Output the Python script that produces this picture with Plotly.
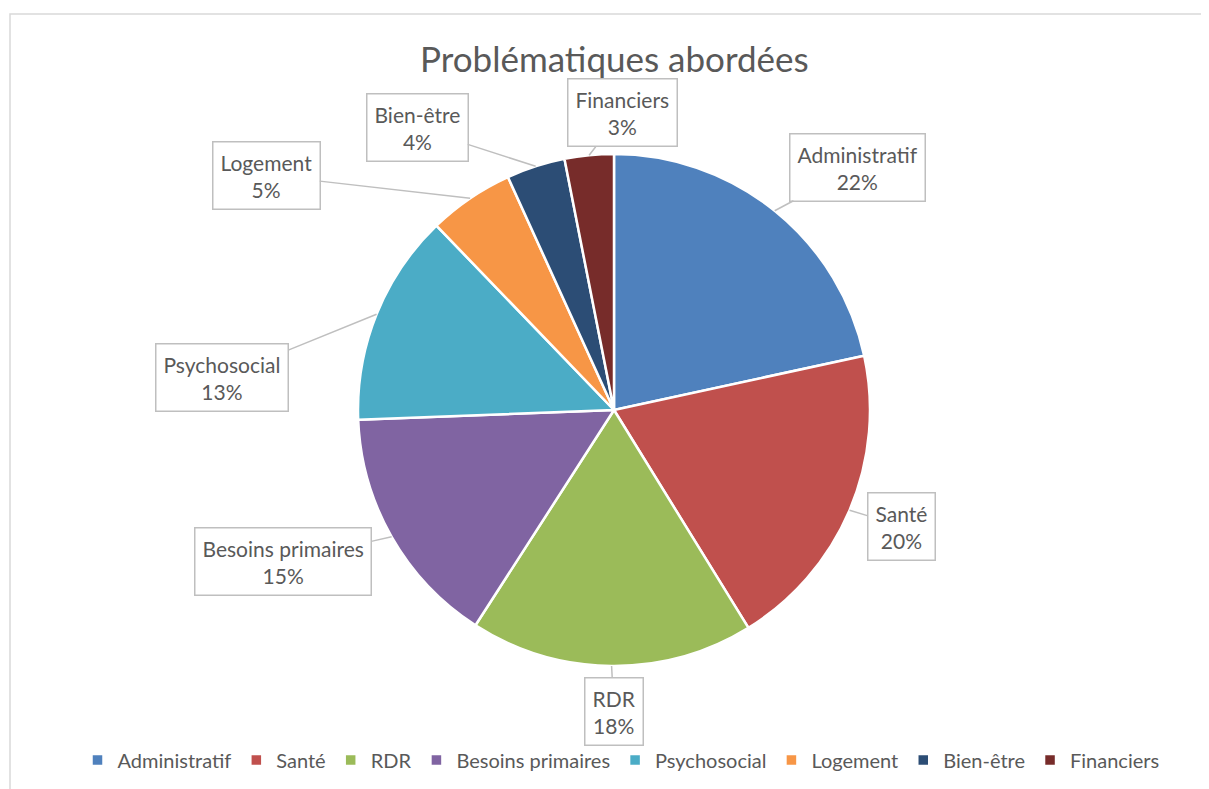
import math
import plotly.graph_objects as go

categories = ["Administratif", "Santé", "RDR", "Besoins primaires", "Psychosocial",
              "Logement", "Bien-être", "Financiers"]
values = [21.6, 19.6, 17.9, 15.3, 13.4, 5.4, 3.7, 3.1]
pct_labels = ["22%", "20%", "18%", "15%", "13%", "5%", "4%", "3%"]
colors = ["#4F81BD", "#C0504D", "#9BBB59", "#8064A2", "#4BACC6",
          "#F79646", "#2C4D75", "#772C2A"]

W, H = 1209, 789
OFF = 8  # page body margin
CX, CY, R = 614 - OFF, 410 - OFF, 256

# label box centers (pixel positions on the page)
box_centers = [(857, 167), (901, 526), (614, 711), (283, 561), (222, 377),
               (266, 175), (417, 128), (622, 113)]

FONT = "Lato"

fig = go.Figure()
fig.add_trace(go.Pie(
    labels=categories, values=values, sort=False, direction="clockwise",
    rotation=0, marker=dict(colors=colors, line=dict(color="white", width=2.5)),
    textinfo="none", hoverinfo="label+percent",
    domain=dict(x=[(CX - R) / W, (CX + R) / W], y=[1 - (CY + R) / H, 1 - (CY - R) / H]),
))

total = sum(values)
cum = 0
annotations = []
for cat, v, lab, (bx, by) in zip(categories, values, pct_labels, box_centers):
    mid = (cum + v / 2) / total * 2 * math.pi
    cum += v
    tx = CX + R * math.sin(mid)
    ty = CY - R * math.cos(mid)
    annotations.append(dict(
        x=tx / W, y=1 - ty / H, xref="paper", yref="paper",
        ax=(bx - OFF) - tx, ay=(by - OFF) - ty, axref="pixel", ayref="pixel",
        text=f"{cat}<br>{lab}", showarrow=True, arrowhead=0, arrowwidth=1.5,
        arrowcolor="#BFBFBF", standoff=0,
        bgcolor="white", bordercolor="#BFBFBF", borderwidth=1.5, borderpad=7,
        font=dict(family=FONT, size=21, color="#595959"),
    ))

annotations.append(dict(
    x=(614 - OFF) / W, y=1 - (58 - OFF) / H, xref="paper", yref="paper", showarrow=False,
    text="Problématiques abordées", xanchor="center", yanchor="middle",
    font=dict(family=FONT, size=35, color="#595959"),
))

fig.update_layout(
    width=W, height=H, margin=dict(l=0, r=0, t=0, b=0),
    paper_bgcolor="white", plot_bgcolor="white",
    showlegend=True,
    legend=dict(orientation="h", x=(621 - OFF) / W, xanchor="center",
                y=1 - (760 - OFF) / H, yanchor="middle",
                font=dict(family=FONT, size=20, color="#595959"),
                itemwidth=30, traceorder="normal"),
    annotations=annotations,
    shapes=[dict(type="rect", xref="paper", yref="paper",
                 x0=(10 - OFF) / W, x1=1.02, y0=-0.05, y1=1 - (14 - OFF) / H,
                 line=dict(color="#D9D9D9", width=1.5), fillcolor="rgba(0,0,0,0)",
                 layer="below")],
)

fig.write_html("out.html")
